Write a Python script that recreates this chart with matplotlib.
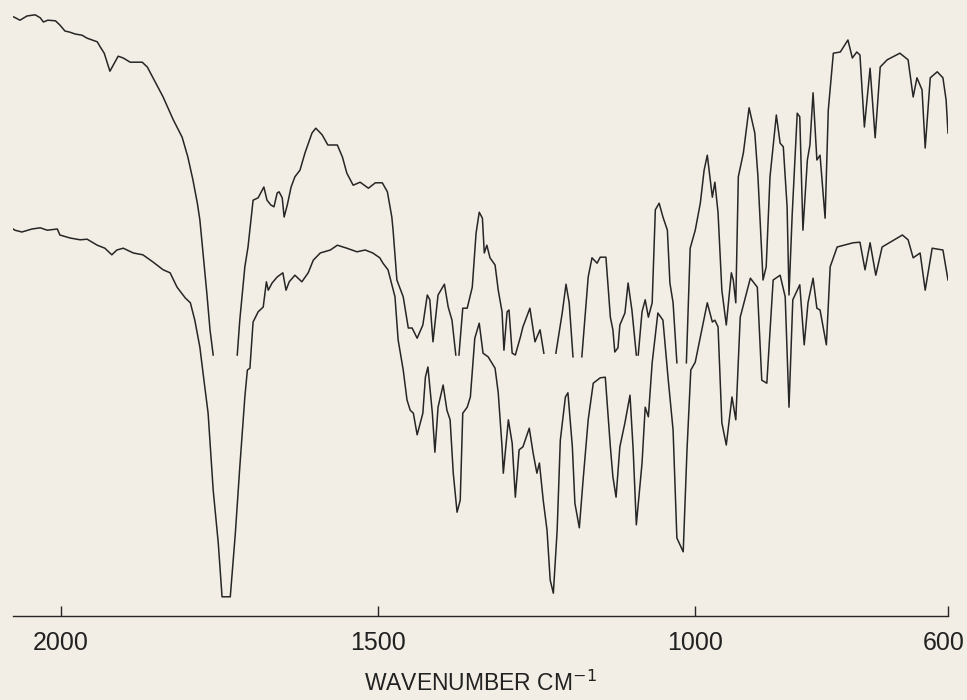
import numpy as np
import matplotlib
matplotlib.use("Agg")
import matplotlib.pyplot as plt
import matplotlib.transforms as mtransforms

nan = float("nan")

# upper trace (breaks where the pen was lifted)
upper_wn = [2080, 2074, 2065, 2054, 2041, 2033, 2028, 2021, 2009, 2002, 1994, 1986,
            1978, 1967, 1959, 1951, 1943, 1938, 1932, 1923, 1910, 1902, 1891, 1872,
            1864, 1855, 1839, 1823, 1809, 1800, 1792, 1785, 1781, 1776, 1770, 1765,
            1760, 1741,
            1722, 1718, 1710, 1705, 1697, 1689, 1680, 1675, 1669, 1664, 1659, 1656,
            1651, 1648, 1643, 1637, 1631, 1623, 1615, 1604, 1598, 1588, 1579, 1564,
            1556, 1549, 1539, 1528, 1515, 1504, 1493, 1485, 1478, 1476, 1470, 1460,
            1452, 1446, 1438, 1429, 1422, 1418, 1413, 1405, 1395, 1389, 1383, 1377,
            1375,
            1372, 1366, 1359, 1351, 1345, 1340, 1335, 1332, 1328, 1323, 1315, 1310,
            1304, 1301, 1296, 1293, 1288, 1283, 1275, 1271, 1260, 1252, 1244, 1238,
            1228,
            1219, 1209, 1203, 1198, 1192,
            1185,
            1178, 1168, 1162, 1154, 1149, 1140, 1133, 1129, 1126, 1121, 1118, 1110,
            1105, 1099, 1092,
            1090,
            1089, 1083, 1078, 1073, 1067, 1062, 1056, 1050, 1043, 1039, 1034, 1028,
            1020,
            1013, 1007, 999, 991, 985, 980, 972, 968, 963, 957, 950, 942, 939, 935,
            931, 923, 914, 905, 900, 892, 887, 881, 871, 865, 860, 854, 851, 846,
            838, 834, 829, 822, 818, 813, 807, 802, 794, 789, 781, 770, 758, 751,
            744, 739, 732, 723, 715, 707, 696, 676, 663, 655, 649, 641, 636, 628,
            617, 608, 603, 600]
upper_t = [100.0, 99.8, 99.3, 100.0, 100.2, 99.7, 99.0, 99.3, 99.2, 98.5, 97.5, 97.3,
           97.0, 96.8, 96.3, 96.0, 95.7, 94.8, 93.8, 90.8, 93.3, 93.0, 92.3, 92.3,
           91.5, 89.7, 86.5, 82.7, 79.8, 76.5, 72.7, 68.8, 66.0, 60.5, 53.8, 47.7,
           43.5, nan,
           43.5, 49.3, 58.2, 61.5, 69.3, 69.7, 71.5, 69.3, 68.5, 68.2, 70.5, 70.7,
           69.7, 66.5, 68.5, 71.5, 73.2, 74.3, 77.2, 80.5, 81.3, 80.2, 78.5, 78.5,
           76.5, 73.8, 71.8, 72.3, 71.3, 72.2, 72.2, 70.7, 66.5, 64.3, 56.0, 53.2,
           48.0, 48.0, 46.3, 48.5, 53.5, 52.7, 45.7, 53.5, 55.3, 51.5, 49.3, 43.5,
           nan,
           43.5, 51.3, 51.3, 54.8, 63.8, 67.3, 66.3, 60.5, 61.8, 59.7, 58.5, 54.3,
           50.7, 44.3, 50.7, 51.0, 43.8, 43.5, 46.5, 48.2, 51.3, 45.7, 47.7, 43.8,
           nan,
           43.8, 50.5, 55.3, 52.2, 43.2,
           nan,
           43.2, 56.5, 59.7, 58.8, 59.8, 59.8, 49.8, 47.7, 44.0, 44.7, 48.5, 50.5,
           55.5, 51.0, 43.5,
           nan,
           43.5, 50.7, 52.7, 49.8, 52.2, 67.7, 68.8, 66.5, 64.3, 55.5, 52.2, 42.2,
           nan,
           42.2, 61.3, 64.3, 68.8, 74.3, 76.8, 69.8, 72.3, 67.2, 54.3, 48.5, 57.2,
           56.0, 52.2, 73.2, 77.2, 84.7, 80.5, 73.2, 56.0, 58.2, 73.2, 83.5, 78.8,
           78.2, 68.2, 53.5, 66.8, 83.8, 83.2, 64.3, 76.0, 78.5, 87.2, 76.0, 76.8,
           66.3, 84.3, 93.8, 94.0, 96.0, 93.0, 94.0, 93.5, 81.5, 91.3, 79.7, 91.5,
           92.7, 93.8, 92.7, 86.5, 89.7, 87.7, 78.0, 89.7, 90.7, 89.7, 86.0, 80.5]

# lower trace
lower_wn = [2080, 2073, 2062, 2046, 2033, 2022, 2006, 2002, 1986, 1970, 1959, 1943,
            1931, 1920, 1912, 1902, 1886, 1871, 1855, 1839, 1828, 1817, 1804, 1796,
            1789, 1781, 1776, 1768, 1760, 1752, 1746, 1733, 1725, 1718, 1710, 1706,
            1702, 1697, 1689, 1681, 1676, 1673, 1667, 1659, 1650, 1645, 1640, 1631,
            1620, 1610, 1602, 1591, 1575, 1564, 1549, 1533, 1520, 1508, 1497, 1492,
            1484, 1473, 1468, 1460, 1454, 1449, 1444, 1438, 1429, 1425, 1421, 1414,
            1410, 1405, 1397, 1391, 1386, 1381, 1375, 1370, 1366, 1359, 1354, 1347,
            1340, 1334, 1326, 1315, 1310, 1304, 1302, 1294, 1288, 1283, 1277, 1271,
            1261, 1255, 1249, 1245, 1239, 1233, 1228, 1223, 1217, 1212, 1204, 1200,
            1193, 1189, 1182, 1176, 1168, 1160, 1149, 1141, 1133, 1129, 1124, 1118,
            1110, 1102, 1097, 1092, 1083, 1078, 1073, 1067, 1058, 1050, 1042, 1034,
            1028, 1018, 1012, 1006, 999, 991, 980, 972, 968, 963, 957, 950, 941,
            935, 928, 912, 901, 894, 886, 876, 865, 857, 851, 845, 834, 827, 821,
            813, 807, 802, 792, 786, 775, 750, 739, 731, 723, 714, 704, 672, 663,
            655, 644, 636, 625, 608, 600]
lower_t = [64.8, 64.3, 64.0, 64.5, 64.7, 64.3, 64.5, 63.5, 63.0, 62.7, 62.8, 61.8,
           61.3, 60.2, 61.0, 61.3, 60.5, 60.2, 59.0, 57.7, 57.2, 54.8, 53.0, 52.2,
           49.3, 44.8, 40.5, 33.8, 21.0, 12.2, 3.2, 3.2, 13.8, 24.8, 36.5, 41.0,
           41.3, 49.0, 50.7, 51.5, 55.7, 54.3, 55.5, 56.5, 57.2, 54.3, 55.7, 56.8,
           55.7, 57.2, 59.3, 60.5, 61.0, 61.8, 61.3, 60.7, 61.0, 60.5, 59.7, 58.8,
           57.7, 53.2, 46.0, 41.0, 36.0, 34.3, 33.8, 30.2, 33.8, 39.8, 41.5, 33.8,
           27.3, 34.8, 38.5, 34.3, 32.7, 23.8, 17.3, 19.3, 33.8, 34.8, 36.5, 46.3,
           48.8, 43.8, 43.2, 41.3, 37.2, 28.2, 23.8, 32.7, 28.8, 19.8, 27.7, 28.2,
           31.3, 27.2, 23.8, 25.5, 19.3, 14.3, 6.0, 3.8, 14.3, 29.3, 36.5, 37.2,
           28.2, 18.8, 14.7, 22.7, 32.7, 38.8, 39.7, 39.8, 28.2, 23.2, 19.8, 28.2,
           32.2, 36.8, 27.7, 15.2, 25.5, 34.8, 33.2, 42.2, 50.5, 49.3, 39.8, 31.0,
           13.0, 10.7, 27.7, 41.0, 42.3, 46.5, 52.2, 49.0, 49.3, 48.2, 32.2, 28.5,
           36.5, 32.7, 49.8, 56.3, 54.8, 39.3, 38.8, 56.0, 56.8, 53.2, 34.8, 52.7,
           55.2, 45.2, 52.2, 56.3, 51.3, 51.0, 45.2, 58.2, 61.5, 62.2, 62.3, 57.7,
           62.2, 56.8, 61.5, 63.5, 62.7, 59.7, 60.5, 54.3, 61.3, 61.0, 56.0]

tick_pos = [2000, 1500, 1000, 600]
tick_txt = ["2000", "1500", "1000", "600"]

bg = "#f3eee5"
ink = "#262626"

fig = plt.figure(figsize=(9.67, 7.0), dpi=100, facecolor=bg)
ax = fig.add_axes([13 / 967, 84 / 700, 935 / 967, 616 / 700])
ax.set_facecolor(bg)

ax.plot(upper_wn, upper_t, color=ink, lw=1.1)
ax.plot(lower_wn, lower_t, color=ink, lw=1.1)

ax.set_xlim(2076, 600)
ax.set_ylim(0, 616 / 6)

for s in ["top", "left", "right"]:
    ax.spines[s].set_visible(False)
ax.spines["bottom"].set_color(ink)
ax.spines["bottom"].set_linewidth(1.0)
ax.set_yticks([])
ax.set_xticks(tick_pos)
ax.set_xticklabels(tick_txt, fontsize=18, color="#222222",
                   family=["Liberation Sans", "DejaVu Sans"])
ax.tick_params(axis="x", direction="in", length=7, width=1.0, color=ink, pad=11)
ax.set_xlabel("WAVENUMBER CM$^{-1}$", fontsize=16.5, color="#222222",
              family=["Liberation Sans", "DejaVu Sans"], labelpad=11)

# keep the right-most label inside the frame
fig.canvas.draw()
lbl = ax.get_xticklabels()[-1]
bb = lbl.get_window_extent()
if bb.x1 > 965:
    lbl.set_transform(lbl.get_transform() + mtransforms.Affine2D().translate(965 - bb.x1, 0))

fig.savefig("out.png", dpi=100, facecolor=bg)
